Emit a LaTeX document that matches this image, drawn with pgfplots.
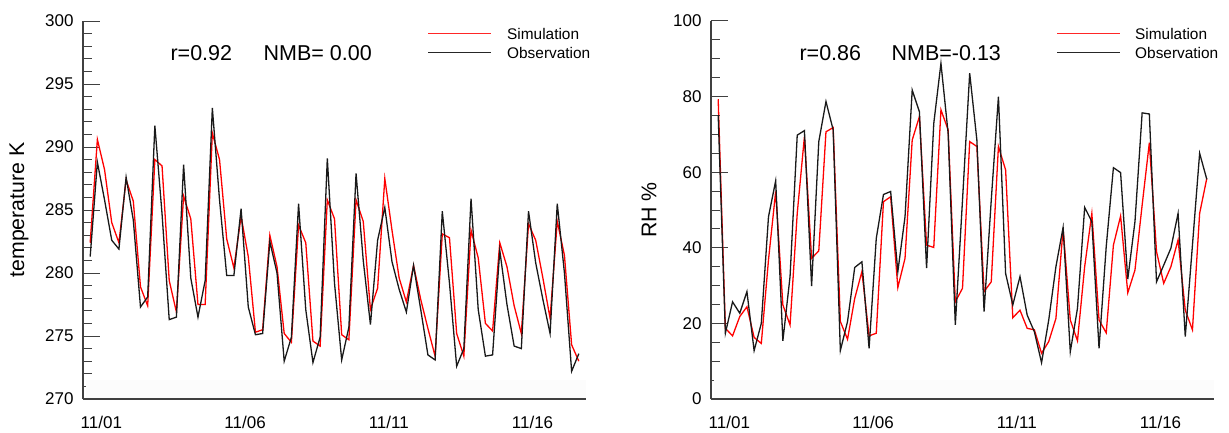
\documentclass[border=0pt]{standalone}
\usepackage{fontspec}
\setmainfont{Liberation Sans}
\usepackage{pgfplots}
\usepackage{pgfplotstable}
\pgfplotsset{compat=1.18}

% 6-hourly series, t in days from 11/01 00:00
\pgfplotstableread{
t sim obs
-0.25 282.4 281.3
0.00 290.6 288.8
0.25 288.2 285.8
0.50 284.0 282.6
0.75 282.4 281.9
1.00 287.4 287.6
1.25 285.7 284.2
1.50 278.9 277.3
1.75 277.4 278.1
2.00 289.0 291.7
2.25 288.5 284.7
2.50 279.4 276.3
2.75 276.9 276.5
3.00 286.1 288.6
3.25 284.3 279.6
3.50 277.5 276.5
3.75 277.5 279.4
4.00 291.1 293.1
4.25 289.0 285.8
4.50 282.7 279.8
4.75 280.4 279.8
5.00 284.5 285.1
5.25 281.3 277.3
5.50 275.3 275.1
5.75 275.5 275.2
6.00 283.0 282.5
6.25 280.5 280.0
6.50 275.2 273.0
6.75 274.5 274.9
7.00 283.8 285.5
7.25 282.4 277.1
7.50 274.6 272.9
7.75 274.2 274.9
8.00 285.8 289.1
8.25 284.3 279.2
8.50 275.1 273.1
8.75 274.7 275.7
9.00 285.8 287.9
9.25 284.1 281.0
9.50 277.1 275.9
9.75 278.8 282.6
10.00 287.5 285.2
10.25 283.4 280.9
10.50 279.6 278.7
10.75 277.7 276.9
11.00 280.6 280.6
11.25 277.9 277.1
11.50 275.6 273.5
11.75 273.4 273.1
12.00 283.1 284.9
12.25 282.8 279.2
12.50 275.2 272.6
12.75 273.4 274.0
13.00 283.4 285.9
13.25 281.2 277.1
13.50 276.0 273.4
13.75 275.4 273.5
14.00 282.4 281.8
14.25 280.5 277.5
14.50 277.4 274.2
14.75 275.2 274.0
15.00 283.9 284.9
15.25 282.6 280.8
15.50 279.6 277.9
15.75 276.4 275.2
16.00 284.1 285.5
16.25 281.4 280.0
16.50 274.3 272.2
16.75 273.0 273.6
}\temptab

\pgfplotstableread{
t sim obs
-0.25 79.3 75.1
0.00 18.7 17.4
0.25 16.7 25.7
0.50 21.8 22.7
0.75 24.4 28.4
1.00 16.3 12.8
1.25 14.7 20.0
1.50 36.8 48.2
1.75 54.9 57.7
2.00 24.9 15.4
2.25 19.6 32.4
2.50 49.1 69.8
2.75 69.4 71.0
3.00 37.2 29.9
3.25 39.2 68.1
3.50 70.7 78.7
3.75 71.8 71.2
4.00 20.5 12.8
4.25 15.8 20.5
4.50 26.6 34.8
4.75 33.7 36.3
5.00 16.7 13.4
5.25 17.4 42.5
5.50 52.2 54.1
5.75 53.5 54.9
6.00 29.5 33.7
6.25 37.2 48.2
6.50 68.5 81.7
6.75 74.7 76.0
7.00 40.7 34.6
7.25 40.1 72.9
7.50 76.5 88.8
7.75 71.2 70.3
8.00 25.7 19.6
8.25 29.3 52.6
8.50 68.1 86.2
8.75 66.8 68.5
9.00 28.4 23.1
9.25 31.0 52.6
9.50 66.8 80.0
9.75 60.6 33.2
10.00 21.5 24.9
10.25 23.5 32.4
10.50 18.7 22.2
10.75 18.3 17.8
11.00 12.1 9.6
11.25 15.2 20.9
11.50 21.3 35.0
11.75 45.1 45.4
12.00 20.9 12.5
12.25 15.4 24.0
12.50 35.0 50.7
12.75 49.1 46.9
13.00 20.9 13.4
13.25 17.5 40.3
13.50 40.7 61.2
13.75 48.4 59.9
14.00 28.1 31.7
14.25 34.1 46.9
14.50 51.3 75.7
14.75 67.8 75.4
15.00 39.0 31.0
15.25 30.6 35.4
15.50 35.0 39.9
15.75 42.1 49.1
16.00 23.5 16.5
16.25 18.3 40.7
16.50 49.1 65.0
16.75 58.4 58.1
}\rhtab

\tikzset{
  simline/.style={red, line width=1.3pt},
  obsline/.style={black!90, line width=1.3pt},
  legtext/.style={anchor=west, inner sep=0pt, font=\fontsize{15.4}{17}\selectfont},
  stat/.style={anchor=west, font=\fontsize{21.5}{24}\selectfont},
}

\pgfplotsset{
  panel/.style={
    scale only axis, width=503pt, height=378pt,
    xmin=-0.5, xmax=17,
    axis x line*=bottom, axis y line*=left,
    xtick pos=bottom, ytick pos=left,
    axis line style={line width=1.1pt, black!75},
    tick align=inside,
    tick style={line width=1pt, black!75},
    xtick={0,5,10,15}, xticklabels={11/01,11/06,11/11,11/16},
    minor x tick num=9,
    xtick style={/pgfplots/major tick length=8pt, /pgfplots/minor tick length=2.5pt},
    ytick style={/pgfplots/major tick length=17pt, /pgfplots/minor tick length=9pt},
    tick label style={font=\fontsize{17}{20}\selectfont},
    /pgf/number format/assume math mode=true,
    xticklabel style={yshift=-14pt, xshift=4pt},
    yticklabel style={xshift=-6pt},
    every axis y label/.style={at={(axis description cs:-0.127,0.5)}, rotate=90, anchor=center,
      font=\fontsize{21.3}{24}\selectfont},
  },
}

\begin{document}
\begin{tikzpicture}
\useasboundingbox (0,0) rectangle (1229pt,432pt);

\begin{axis}[panel, at={(83pt,33pt)}, anchor=south west,
  ymin=270, ymax=300, ytick={270,275,...,300}, minor y tick num=4,
  ylabel={temperature K}]
  \fill[black!1] (axis description cs:0.005,0.002) rectangle (axis description cs:1,0.05);
  \addplot[simline] table[x=t, y=sim] {\temptab};
  \addplot[obsline] table[x=t, y=obs] {\temptab};
  \node[stat] at (axis description cs:0.167,0.915) {r=0.92};
  \node[stat] at (axis description cs:0.352,0.915) {NMB= 0.00};
\end{axis}

\begin{axis}[panel, at={(711pt,33pt)}, anchor=south west,
  ymin=0, ymax=100, ytick={0,20,...,100}, minor y tick num=3,
  ylabel={RH \%}, every axis y label/.append style={at={(axis description cs:-0.123,0.5)}}]
  \fill[black!1] (axis description cs:0.005,0.002) rectangle (axis description cs:1,0.05);
  \addplot[simline] table[x=t, y=sim] {\rhtab};
  \addplot[obsline] table[x=t, y=obs] {\rhtab};
  \node[stat] at (axis description cs:0.169,0.915) {r=0.86};
  \node[stat] at (axis description cs:0.352,0.915) {NMB=-0.13};
\end{axis}

% legends as thin filled bars, outside the clipped axis areas
\fill[red!85!white] (428pt,397.7pt) rectangle (491pt,399.3pt);
\fill[black!85] (428pt,378.7pt) rectangle (491pt,380.3pt);
\node[legtext] at (507pt,398.5pt) {Simulation};
\node[legtext] at (507pt,379.5pt) {Observation};
\fill[red!85!white] (1057pt,397.7pt) rectangle (1120pt,399.3pt);
\fill[black!85] (1057pt,378.7pt) rectangle (1120pt,380.3pt);
\node[legtext] at (1135pt,398.5pt) {Simulation};
\node[legtext] at (1135pt,379.5pt) {Observation};
\end{tikzpicture}
\end{document}
